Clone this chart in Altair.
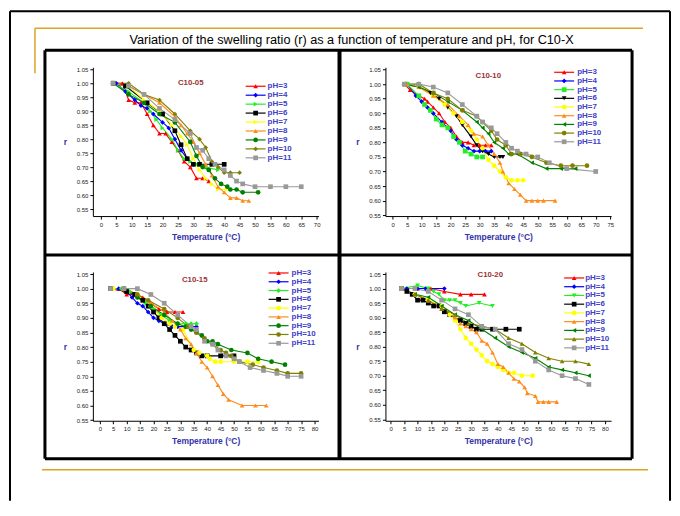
import altair as alt
import pandas as pd

PH = ["pH=3", "pH=4", "pH=5", "pH=6", "pH=7", "pH=8", "pH=9", "pH=10", "pH=11"]
COLORS = ["#ff0000", "#0000ff", "#22ee22", "#000000", "#ffff00",
          "#ff8c1a", "#008000", "#808000", "#999999"]

# ---- C10-05 : (temperature, r) ----
C05 = {
    "pH=3": [(4, 1.00), (7, 1.00), (9, 0.94), (11, 0.93), (13, 0.93), (15, 0.89), (17, 0.85), (19, 0.82),
             (21, 0.82), (23, 0.79), (25, 0.76), (27, 0.72), (29, 0.70), (31, 0.66), (33, 0.66), (35, 0.65)],
    "pH=4": [(5, 1.00), (8, 0.97), (11, 0.94), (13, 0.92), (15, 0.91), (17, 0.89), (20, 0.86), (22, 0.84),
             (24, 0.80), (26, 0.76), (28, 0.73), (30, 0.71)],
    "pH=5": [(4, 1.00), (9, 0.97), (14, 0.93), (16, 0.90), (18, 0.87), (20, 0.84), (23, 0.80), (25, 0.76),
             (27, 0.73), (29, 0.72), (31, 0.71), (34, 0.70), (38, 0.69)],
    "pH=6": [(4, 1.00), (8, 0.99), (15, 0.93), (20, 0.89), (24, 0.83), (26, 0.78), (28, 0.73), (30, 0.71),
             (32, 0.71), (36, 0.71), (40, 0.71)],
    "pH=7": [(4, 1.00), (9, 0.99), (14, 0.94), (19, 0.90), (23, 0.85), (26, 0.81), (28, 0.78), (30, 0.73),
             (32, 0.69), (34, 0.66), (36, 0.64), (38, 0.62), (41, 0.62)],
    "pH=8": [(4, 1.00), (9, 0.99), (14, 0.96), (19, 0.93), (24, 0.88), (26, 0.85), (28, 0.82), (30, 0.79),
             (32, 0.75), (34, 0.71), (36, 0.67), (38, 0.63), (40, 0.61), (42, 0.59), (44, 0.59), (46, 0.58),
             (48, 0.58)],
    "pH=9": [(4, 1.00), (9, 0.96), (14, 0.93), (19, 0.89), (24, 0.86), (29, 0.79), (31, 0.74), (33, 0.70),
             (35, 0.69), (37, 0.66), (39, 0.64), (41, 0.63), (42, 0.62), (44, 0.62), (46, 0.61), (51, 0.61)],
    "pH=10": [(4, 1.00), (9, 1.00), (14, 0.96), (19, 0.94), (24, 0.89), (29, 0.83), (32, 0.80), (34, 0.77),
              (36, 0.72), (38, 0.70), (40, 0.68), (42, 0.68), (45, 0.68)],
    "pH=11": [(4, 1.00), (9, 0.99), (14, 0.96), (19, 0.91), (24, 0.87), (29, 0.82), (31, 0.77), (33, 0.76),
              (35, 0.73), (37, 0.71), (40, 0.69), (42, 0.67), (44, 0.65), (46, 0.64), (50, 0.63), (55, 0.63),
              (60, 0.63), (65, 0.63)],
}

# ---- C10-10 ----
C10 = {
    "pH=3": [(4, 1.00), (6, 0.98), (9, 0.96), (11, 0.95), (12, 0.94), (14, 0.92), (16, 0.90), (18, 0.87),
             (20, 0.85), (22, 0.82), (24, 0.80), (26, 0.80), (28, 0.79), (30, 0.79), (32, 0.79), (34, 0.79)],
    "pH=4": [(5, 1.00), (8, 0.96), (10, 0.94), (12, 0.92), (14, 0.90), (17, 0.87), (20, 0.84), (22, 0.81),
             (24, 0.79), (26, 0.78), (28, 0.77), (30, 0.77), (32, 0.77), (34, 0.77)],
    "pH=5": [(5, 1.00), (9, 0.96), (11, 0.93), (13, 0.91), (15, 0.88), (17, 0.86), (19, 0.85), (21, 0.82),
             (23, 0.80), (25, 0.77), (27, 0.76), (29, 0.75), (31, 0.75)],
    "pH=6": [(4, 1.00), (9, 0.99), (13, 0.97), (16, 0.95), (19, 0.92), (22, 0.89), (24, 0.86), (27, 0.82),
             (29, 0.79), (31, 0.77), (33, 0.76), (35, 0.75), (37, 0.75), (38, 0.75)],
    "pH=7": [(4, 1.00), (9, 0.99), (14, 0.96), (18, 0.93), (21, 0.90), (24, 0.87), (27, 0.84), (29, 0.81),
             (31, 0.78), (33, 0.74), (35, 0.72), (37, 0.70), (39, 0.68), (41, 0.67), (43, 0.67), (45, 0.67)],
    "pH=8": [(5, 1.00), (9, 0.99), (14, 0.96), (19, 0.93), (23, 0.89), (26, 0.86), (28, 0.83), (31, 0.82),
             (33, 0.79), (35, 0.76), (37, 0.73), (38, 0.70), (40, 0.66), (42, 0.64), (44, 0.62), (46, 0.60),
             (48, 0.60), (50, 0.60), (52, 0.60), (56, 0.60)],
    "pH=9": [(4, 1.00), (9, 0.99), (14, 0.97), (19, 0.94), (24, 0.91), (29, 0.87), (31, 0.85), (33, 0.83),
             (35, 0.80), (38, 0.78), (40, 0.76), (43, 0.76), (48, 0.73), (53, 0.71), (58, 0.71), (63, 0.71)],
    "pH=10": [(4, 1.00), (9, 1.00), (14, 0.97), (19, 0.95), (24, 0.91), (29, 0.89), (31, 0.87), (34, 0.84),
              (36, 0.81), (39, 0.79), (41, 0.76), (44, 0.76), (48, 0.75), (53, 0.73), (58, 0.72), (62, 0.72),
              (67, 0.72)],
    "pH=11": [(4, 1.00), (9, 1.00), (14, 0.99), (19, 0.97), (24, 0.93), (29, 0.89), (31, 0.87), (34, 0.85),
              (36, 0.83), (39, 0.80), (41, 0.78), (43, 0.77), (46, 0.76), (50, 0.75), (54, 0.73), (60, 0.71),
              (70, 0.70)],
}

# ---- C10-15 ----
C15 = {
    "pH=3": [(4, 1.00), (7, 1.00), (10, 0.98), (13, 0.98), (16, 0.97), (19, 0.95), (22, 0.93), (25, 0.92),
             (28, 0.92), (31, 0.92)],
    "pH=4": [(4, 1.00), (7, 1.00), (10, 0.99), (12, 0.97), (14, 0.95), (16, 0.94), (18, 0.92), (20, 0.90),
             (22, 0.89), (24, 0.88), (27, 0.87), (29, 0.87), (32, 0.87), (34, 0.87), (36, 0.87)],
    "pH=5": [(5, 1.00), (8, 1.00), (11, 0.99), (14, 0.97), (17, 0.95), (20, 0.93), (23, 0.91), (26, 0.89),
             (29, 0.88), (32, 0.88), (34, 0.88), (36, 0.88)],
    "pH=6": [(4, 1.00), (10, 0.99), (13, 0.98), (16, 0.96), (18, 0.94), (20, 0.92), (22, 0.90), (24, 0.88),
             (26, 0.86), (28, 0.84), (30, 0.82), (32, 0.80), (34, 0.79), (36, 0.78), (38, 0.77), (40, 0.77),
             (45, 0.77), (50, 0.77)],
    "pH=7": [(5, 1.00), (9, 1.00), (14, 0.98), (19, 0.94), (23, 0.90), (26, 0.88), (28, 0.87), (31, 0.86),
             (35, 0.79), (37, 0.78), (40, 0.77), (41, 0.76), (43, 0.75), (45, 0.75), (50, 0.75), (55, 0.75),
             (59, 0.75)],
    "pH=8": [(4, 1.00), (9, 1.00), (14, 0.98), (19, 0.95), (24, 0.92), (27, 0.89), (30, 0.86), (32, 0.83),
             (34, 0.81), (36, 0.78), (38, 0.75), (40, 0.73), (42, 0.70), (44, 0.67), (46, 0.64), (48, 0.62),
             (53, 0.60), (58, 0.60), (62, 0.60)],
    "pH=9": [(4, 1.00), (9, 1.00), (14, 0.97), (19, 0.94), (24, 0.91), (29, 0.88), (32, 0.87), (34, 0.86),
             (36, 0.85), (38, 0.84), (40, 0.82), (42, 0.82), (44, 0.81), (49, 0.79), (55, 0.78), (59, 0.76),
             (64, 0.75), (69, 0.74)],
    "pH=10": [(4, 1.00), (9, 1.00), (14, 0.98), (18, 0.96), (24, 0.93), (29, 0.90), (33, 0.87), (36, 0.85),
              (39, 0.83), (42, 0.81), (45, 0.79), (47, 0.78), (49, 0.77), (52, 0.75), (57, 0.74), (61, 0.73),
              (66, 0.72), (70, 0.71), (75, 0.71)],
    "pH=11": [(4, 1.00), (9, 1.00), (14, 1.00), (19, 0.98), (24, 0.95), (29, 0.91), (34, 0.87), (36, 0.86),
              (39, 0.82), (42, 0.81), (44, 0.79), (47, 0.77), (50, 0.76), (52, 0.75), (56, 0.73), (61, 0.72),
              (66, 0.71), (70, 0.70), (75, 0.70)],
}

# ---- C10-20 ----
C20 = {
    "pH=3": [(4, 1.00), (10, 1.00), (15, 1.00), (20, 0.99), (26, 0.98), (30, 0.98), (35, 0.98)],
    "pH=4": [(4, 1.00), (6, 1.00), (10, 1.00), (13, 1.00), (20, 1.00)],
    "pH=5": [(4, 1.00), (10, 1.01), (14, 1.00), (16, 0.99), (18, 0.98), (20, 0.96), (22, 0.96), (24, 0.96),
             (26, 0.95), (28, 0.94), (33, 0.95), (38, 0.94)],
    "pH=6": [(4, 1.00), (6, 0.99), (8, 0.98), (10, 0.96), (12, 0.96), (14, 0.95), (16, 0.94), (18, 0.94),
             (20, 0.92), (22, 0.91), (26, 0.89), (28, 0.88), (30, 0.87), (32, 0.86), (34, 0.86), (38, 0.86),
             (43, 0.86), (48, 0.86)],
    "pH=7": [(4, 1.00), (9, 0.98), (14, 0.96), (19, 0.94), (22, 0.91), (24, 0.89), (26, 0.86), (28, 0.83),
             (30, 0.81), (32, 0.79), (34, 0.77), (36, 0.75), (38, 0.74), (40, 0.73), (42, 0.72), (44, 0.71),
             (46, 0.71), (49, 0.70), (53, 0.70)],
    "pH=8": [(4, 1.00), (9, 0.98), (14, 0.96), (19, 0.93), (24, 0.90), (26, 0.88), (28, 0.87), (30, 0.86),
             (32, 0.85), (34, 0.82), (36, 0.81), (38, 0.78), (40, 0.74), (42, 0.73), (44, 0.71), (46, 0.69),
             (48, 0.68), (50, 0.66), (51, 0.64), (54, 0.63), (55, 0.61), (57, 0.61), (59, 0.61), (62, 0.61)],
    "pH=9": [(4, 1.00), (9, 0.98), (14, 0.97), (19, 0.94), (24, 0.91), (29, 0.89), (34, 0.86), (39, 0.83),
             (44, 0.80), (49, 0.78), (54, 0.76), (59, 0.73), (64, 0.72), (69, 0.71), (74, 0.70)],
    "pH=10": [(4, 1.00), (9, 0.98), (14, 0.96), (19, 0.93), (24, 0.91), (29, 0.88), (34, 0.87), (39, 0.86),
              (44, 0.83), (49, 0.81), (54, 0.78), (59, 0.76), (64, 0.75), (69, 0.75), (74, 0.74)],
    "pH=11": [(4, 1.00), (9, 1.00), (14, 0.99), (19, 0.96), (24, 0.93), (29, 0.91), (34, 0.87), (39, 0.86),
              (44, 0.81), (49, 0.79), (54, 0.75), (59, 0.72), (64, 0.70), (69, 0.69), (74, 0.67)],
}

SHAPES_05 = ["triangle-up", "diamond", "triangle-right", "square", "triangle-right",
             "triangle-up", "circle", "diamond", "square"]
SHAPES_10 = ["triangle-up", "diamond", "square", "triangle-down", "circle",
             "triangle-up", "triangle-left", "circle", "square"]
SHAPES_15 = ["triangle-up", "diamond", "diamond", "square", "circle",
             "triangle-up", "circle", "circle", "square"]
SHAPES_20 = ["triangle-up", "diamond", "triangle-down", "square", "circle",
             "triangle-up", "triangle-left", "triangle-up", "square"]

Y_TICKS = [0.55, 0.60, 0.65, 0.70, 0.75, 0.80, 0.85, 0.90, 0.95, 1.00, 1.05]

FONT = "Liberation Sans"
W, H = 226, 149
AXIS_BLUE = "#3333aa"
LEG_BLUE = "#4040c8"


def build_panel(name, series, shapes, xdom, xmax, ydom, title_xy, leg):
    rows = []
    for k, pts in series.items():
        for j, (t, r) in enumerate(pts):
            rows.append({"pH": k, "T": t, "r": r, "o": j})
    df = pd.DataFrame(rows)
    leg_df = pd.DataFrame({"pH": PH, "i": list(range(len(PH)))})

    color = alt.Color("pH:N", scale=alt.Scale(domain=PH, range=COLORS), legend=None)
    shape = alt.Shape("pH:N", scale=alt.Scale(domain=PH, range=shapes), legend=None)
    xs = alt.Scale(domain=xdom, nice=False, zero=False)
    ys = alt.Scale(domain=ydom, nice=False, zero=False)

    x_axis = alt.Axis(values=list(range(0, xmax + 1, 5)), title="Temperature (°C)", grid=False,
                      labelFontSize=6, labelColor="#222222", tickSize=3, tickColor="black",
                      domainColor="black", labelPadding=2, labelFlush=False, labelOverlap=False,
                      titleFontSize=8.5, titleFontWeight="bold", titleColor=AXIS_BLUE, titlePadding=5)
    y_axis = alt.Axis(values=Y_TICKS, format=".2f", title="r", grid=False,
                      labelFontSize=6, labelColor="#222222", tickSize=3, tickColor="black",
                      domainColor="black", labelPadding=2, labelFlush=False, labelOverlap=False,
                      titleFontSize=8.5, titleFontWeight="bold", titleColor=AXIS_BLUE,
                      titleAngle=0, titleX=-28, titleY=H / 2, titleAlign="center", titleBaseline="middle")

    xe = alt.X("T:Q", scale=xs, axis=x_axis)
    ye = alt.Y("r:Q", scale=ys, axis=y_axis)
    lines = alt.Chart(df).mark_line(strokeWidth=1.1).encode(
        x=xe, y=ye, color=color, detail="pH:N", order="o:Q")
    points = alt.Chart(df).mark_point(filled=True, size=22, opacity=1).encode(
        x=xe, y=ye, color=color, shape=shape)
    data_layer = alt.layer(lines, points)

    lx, ly, sp, tx = leg
    ly_enc = alt.Y("i:Q", scale=alt.Scale(domain=[0, 8], range=[ly, ly + 8 * sp], nice=False, zero=False),
                   axis=None)
    leg_rule = alt.Chart(leg_df).mark_rule(strokeWidth=1.2).encode(
        x=alt.value(lx - 10), x2=alt.value(lx + 10), y=ly_enc, color=color)
    leg_pt = alt.Chart(leg_df).mark_point(filled=True, size=22, opacity=1).encode(
        x=alt.value(lx), y=ly_enc, color=color, shape=shape)
    leg_txt = alt.Chart(leg_df).mark_text(align="left", baseline="middle", fontSize=8,
                                          fontWeight="bold", color=LEG_BLUE, font=FONT).encode(
        x=alt.value(tx), y=ly_enc, text="pH:N")

    ttl = alt.Chart(alt.Data(values=[{}])).mark_text(
        text=name, fontSize=7.8, fontWeight="bold", color="#993333", font=FONT,
        align="center", baseline="middle").encode(x=alt.value(title_xy[0]), y=alt.value(title_xy[1]))

    return [data_layer, leg_rule, leg_pt, leg_txt, ttl]


def deco():
    one = alt.Data(values=[{}])
    gold = "#daa520"
    out = []

    def rule(x1, y1, x2, y2, col, sw):
        return alt.Chart(one).mark_rule(color=col, strokeWidth=sw).encode(
            x=alt.value(x1), y=alt.value(y1), x2=alt.value(x2), y2=alt.value(y2))

    # outer page frame
    out.append(rule(-83, -56, -83, 434, "black", 2))
    out.append(rule(-83, -56, 578, -56, "black", 2))
    out.append(rule(578, -56, 578, 434, "black", 2))
    # golden lines
    out.append(rule(-58, -39, 551, -39, gold, 1.5))
    out.append(rule(-58, -39, -58, 6, gold, 1.5))
    out.append(rule(-51, 403, 556, 403, gold, 1.5))
    # panel boxes
    out.append(rule(-48, -17, 540, -17, "black", 3))
    out.append(rule(-48, 392, 540, 392, "black", 3))
    out.append(rule(-48, -17, -48, 392, "black", 3))
    out.append(rule(540, -17, 540, 392, "black", 3))
    out.append(rule(247, -17, 247, 392, "black", 4))
    out.append(rule(-48, 188, 540, 188, "black", 3))
    # slide title
    out.append(alt.Chart(one).mark_text(
        text="Variation of the swelling ratio (r) as a function of temperature and  pH, for C10-X",
        fontSize=12.7, color="black", font=FONT, align="center", baseline="alphabetic").encode(
        x=alt.value(259), y=alt.value(-23)))
    return out


p1 = alt.layer(*(deco() + build_panel("C10-05", C05, SHAPES_05, [-2.6, 70.6], 70, [0.525, 1.057],
                                      (98, 16), (163, 19, 8.96, 175)))).resolve_scale(y="independent")
p2 = alt.layer(*build_panel("C10-10", C10, SHAPES_10, [-2.5, 75.3], 75, [0.547, 1.058],
                            (103, 9), (179, 5, 8.7, 192))).resolve_scale(y="independent")
p3 = alt.layer(*build_panel("C10-15", C15, SHAPES_15, [-2.6, 81.5], 80, [0.548, 1.057],
                            (102, 8), (186, 1, 8.8, 199))).resolve_scale(y="independent")
p4 = alt.layer(*build_panel("C10-20", C20, SHAPES_20, [-2.0, 82.3], 80, [0.545, 1.057],
                            (105, 3), (189, 6, 8.75, 200))).resolve_scale(y="independent")

panels = [p.properties(width=W, height=H) for p in (p1, p2, p3, p4)]

chart = alt.concat(*panels, columns=2, spacing={"row": 56, "column": 67}, bounds="flush").resolve_scale(
    shape="independent"
).properties(
    padding={"left": 0, "top": 1, "right": 0, "bottom": 0},
    background="white",
).configure(
    font=FONT,
    view=alt.ViewConfig(stroke="transparent"),
)

chart.save("out.html", embed_options={"renderer": "svg", "actions": False})
